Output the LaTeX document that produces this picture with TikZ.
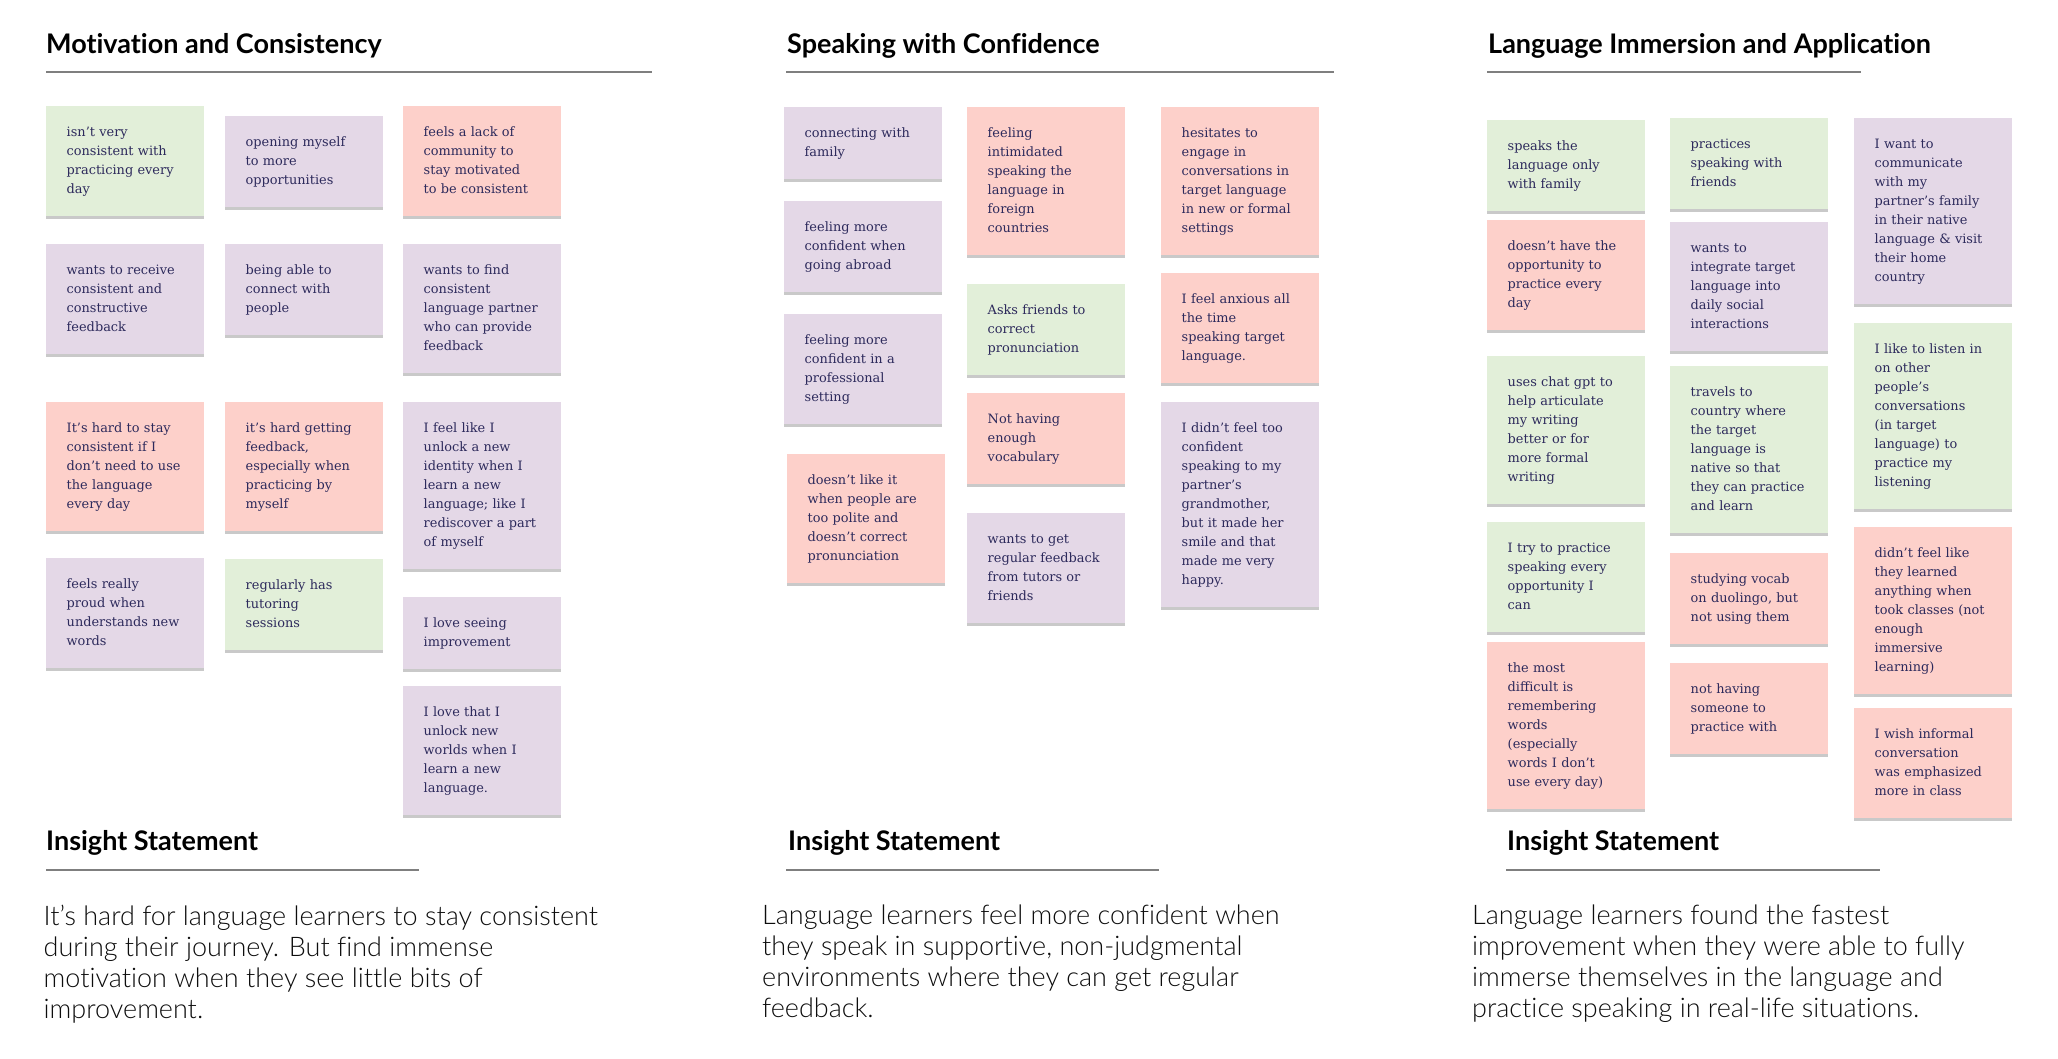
\documentclass[tikz,border=0pt]{standalone}
\usepackage{fontspec}
\setmainfont{Lato}[Ligatures=NoCommon]
\newfontfamily\notefont{DejaVu Serif}
\IfFontExistsTF{Lato Light}{\newfontfamily\insightfont{Lato Light}[Ligatures=NoCommon]}{\newfontfamily\insightfont{Lato}[Ligatures=NoCommon]}
\usepackage{xcolor}
\usepackage{tikz}
\usetikzlibrary{shadows}
\definecolor{boardGreen}{HTML}{E2EFD9}
\definecolor{boardPink}{HTML}{FDD0CA}
\definecolor{boardLilac}{HTML}{E4D8E7}
\definecolor{boardInk}{HTML}{2D2A5C}
\definecolor{boardRule}{HTML}{7F7F7F}
\definecolor{boardText}{HTML}{0D0D0D}

\begin{document}
\begin{tikzpicture}[x=1pt,y=-1pt]
  \tikzset{
    note/.style={anchor=north west,inner xsep=14pt,inner ysep=17pt,text width=130pt,align=left,text=boardInk,font=\notefont\fontsize{12.9}{19}\selectfont,execute at begin node={\leftskip=6.5pt\strut},execute at end node=\strut,drop shadow={shadow xshift=0pt,shadow yshift=-2.5pt,opacity=.3,fill=black!70}},
    head/.style={anchor=base west,inner sep=0pt,text=black,font=\bfseries\fontsize{27}{32}\selectfont},
    headline/.style={draw=boardRule,line width=2pt},
    insight/.style={anchor=north west,inner sep=0pt,align=left,text=boardText,font=\insightfont\fontsize{27}{31}\selectfont,execute at begin node=\strut}
  }
  \useasboundingbox (0,0) rectangle (2058,1059);
  % column titles
  \node[head] (motHead) at (46,53.5) {Motivation and Consistency};
  \node[head] (spkHead) at (787,53.5) {Speaking with Confidence};
  \node[head] (lngHead) at (1488,53.5) {Language Immersion and Application};
  \draw[headline] (46,72) -- (652,72);
  \draw[headline] (786,72) -- (1334,72);
  \draw[headline] (1487,72) -- (1861,72);
  % motivation and consistency
  \node[note,fill=boardGreen] (mot1) at (46,106) {isn’t very\\consistent with\\practicing every\\day};
  \node[note,fill=boardLilac] (mot2) at (225,116) {opening myself\\to more\\opportunities};
  \node[note,fill=boardPink] (mot3) at (403,106) {feels a lack of\\community to\\stay motivated\\to be consistent};
  \node[note,fill=boardLilac] (mot4) at (46,244) {wants to receive\\consistent and\\constructive\\feedback};
  \node[note,fill=boardLilac] (mot5) at (225,244) {being able to\\connect with\\people};
  \node[note,fill=boardLilac] (mot6) at (403,244) {wants to find\\consistent\\language partner\\who can provide\\feedback};
  \node[note,fill=boardPink] (mot7) at (46,402) {It’s hard to stay\\consistent if I\\don’t need to use\\the language\\every day};
  \node[note,fill=boardPink] (mot8) at (225,402) {it’s hard getting\\feedback,\\especially when\\practicing by\\myself};
  \node[note,fill=boardLilac] (mot9) at (403,402) {I feel like I\\unlock a new\\identity when I\\learn a new\\language; like I\\rediscover a part\\of myself};
  \node[note,fill=boardLilac] (mot10) at (46,558) {feels really\\proud when\\understands new\\words};
  \node[note,fill=boardGreen] (mot11) at (225,559) {regularly has\\tutoring\\sessions};
  \node[note,fill=boardLilac] (mot12) at (403,597) {I love seeing\\improvement};
  \node[note,fill=boardLilac] (mot13) at (403,686) {I love that I\\unlock new\\worlds when I\\learn a new\\language.};
  % speaking with confidence
  \node[note,fill=boardLilac] (spk1) at (784,107) {connecting with\\family};
  \node[note,fill=boardLilac] (spk2) at (784,201) {feeling more\\confident when\\going abroad};
  \node[note,fill=boardLilac] (spk3) at (784,314) {feeling more\\confident in a\\professional\\setting};
  \node[note,fill=boardPink] (spk4) at (787,454) {doesn’t like it\\when people are\\too polite and\\doesn’t correct\\pronunciation};
  \node[note,fill=boardPink] (spk5) at (967,107) {feeling\\intimidated\\speaking the\\language in\\foreign\\countries};
  \node[note,fill=boardGreen] (spk6) at (967,284) {Asks friends to\\correct\\pronunciation};
  \node[note,fill=boardPink] (spk7) at (967,393) {Not having\\enough\\vocabulary};
  \node[note,fill=boardLilac] (spk8) at (967,513) {wants to get\\regular feedback\\from tutors or\\friends};
  \node[note,fill=boardPink] (spk9) at (1161,107) {hesitates to\\engage in\\conversations in\\target language\\in new or formal\\settings};
  \node[note,fill=boardPink] (spk10) at (1161,273) {I feel anxious all\\the time\\speaking target\\language.};
  \node[note,fill=boardLilac] (spk11) at (1161,402) {I didn’t feel too\\confident\\speaking to my\\partner’s\\grandmother,\\but it made her\\smile and that\\made me very\\happy.};
  % language immersion and application
  \node[note,fill=boardGreen] (lng1) at (1487,120) {speaks the\\language only\\with family};
  \node[note,fill=boardPink] (lng2) at (1487,220) {doesn’t have the\\opportunity to\\practice every\\day};
  \node[note,fill=boardGreen] (lng3) at (1487,356) {uses chat gpt to\\help articulate\\my writing\\better or for\\more formal\\writing};
  \node[note,fill=boardGreen] (lng4) at (1487,522) {I try to practice\\speaking every\\opportunity I\\can};
  \node[note,fill=boardPink] (lng5) at (1487,642) {the most\\difficult is\\remembering\\words\\(especially\\words I don’t\\use every day)};
  \node[note,fill=boardGreen] (lng6) at (1670,118) {practices\\speaking with\\friends};
  \node[note,fill=boardLilac] (lng7) at (1670,222) {wants to\\integrate target\\language into\\daily social\\interactions};
  \node[note,fill=boardGreen] (lng8) at (1670,366) {travels to\\country where\\the target\\language is\\native so that\\they can practice\\and learn};
  \node[note,fill=boardPink] (lng9) at (1670,553) {studying vocab\\on duolingo, but\\not using them};
  \node[note,fill=boardPink] (lng10) at (1670,663) {not having\\someone to\\practice with};
  \node[note,fill=boardLilac] (lng11) at (1854,118) {I want to\\communicate\\with my\\partner’s family\\in their native\\language \& visit\\their home\\country};
  \node[note,fill=boardGreen] (lng12) at (1854,323) {I like to listen in\\on other\\people’s\\conversations\\(in target\\language) to\\practice my\\listening};
  \node[note,fill=boardPink] (lng13) at (1854,527) {didn’t feel like\\they learned\\anything when\\took classes (not\\enough\\immersive\\learning)};
  \node[note,fill=boardPink] (lng14) at (1854,708) {I wish informal\\conversation\\was emphasized\\more in class};
  % insight statements
  \node[head] (motInsight) at (46,850) {Insight Statement};
  \node[head] (spkInsight) at (788,850) {Insight Statement};
  \node[head] (lngInsight) at (1507,850) {Insight Statement};
  \draw[headline] (46,870) -- (419,870);
  \draw[headline] (786,870) -- (1159,870);
  \draw[headline] (1506,870) -- (1880,870);
  \node[insight] (motText) at (43.5,904.8) {It’s hard for language learners to stay consistent\\during their journey. But find immense\\motivation when they see little bits of\\improvement.};
  \node[insight] (spkText) at (762,904.8) {Language learners feel more confident when\\they speak in supportive, non-judgmental\\environments where they can get regular\\feedback.};
  \node[insight] (lngText) at (1472,904.8) {Language learners found the fastest\\improvement when they were able to fully\\immerse themselves in the language and\\practice speaking in real-life situations.};
\end{tikzpicture}
\end{document}
